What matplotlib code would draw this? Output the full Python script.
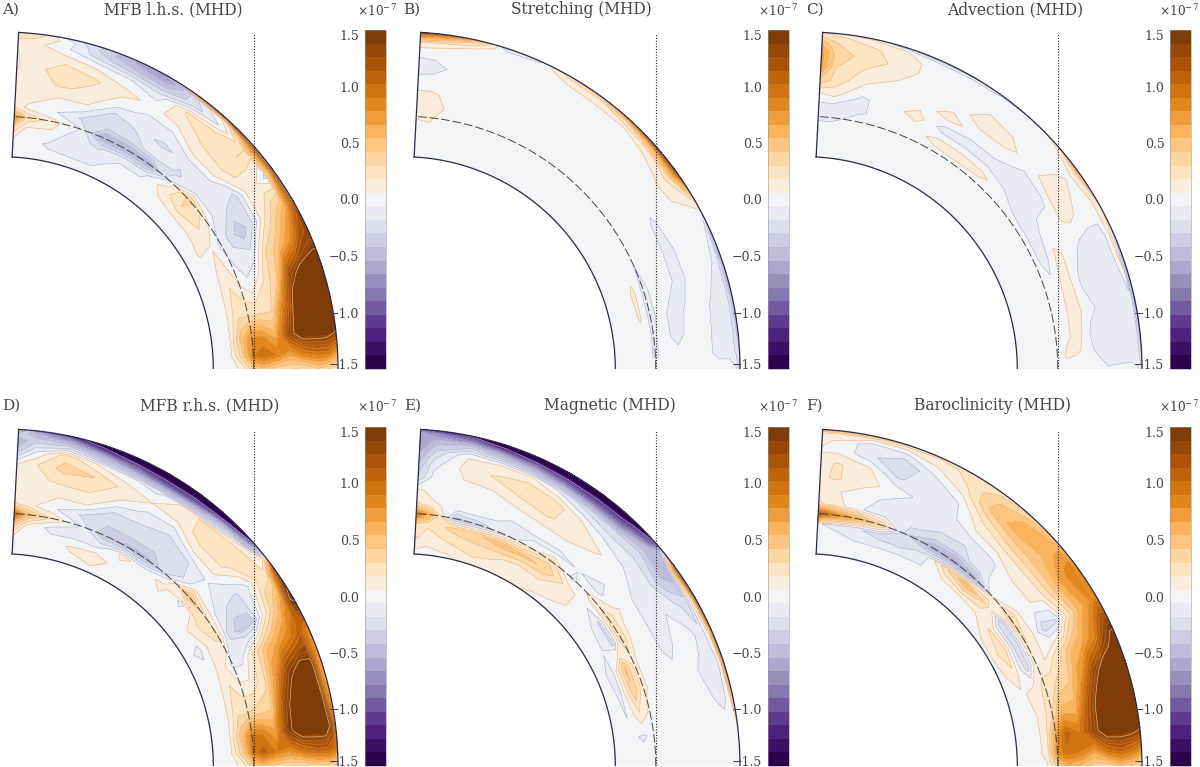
import numpy as np
import matplotlib
matplotlib.use('Agg')
import matplotlib.pyplot as plt
from matplotlib.colors import ListedColormap, to_rgba

W, H = 1200, 767

# grid: latitude (deg) for each row, radius (r/R) for each column
lat = [0, 3, 7, 12, 18, 24, 30, 36, 42, 48, 54, 60, 66, 72, 78, 84, 87]
rad = [.63, .68, .72, .75, .78, .82, .86, .90, .94, .97, .99, 1.0]

# values in units of 1e-7
mfb_lhs = [
    [0, 0, .1, .4, .5, .35, .3, .25, .4, .3, .2, .2],
    [0, 0, .4, .9, 1.0, .9, .7, .9, 1.0, 1.0, .8, .7],
    [0, 0, .5, .8, .8, .6, 1.3, 1.8, 1.8, 1.8, 1.7, 1.6],
    [0, 0, .3, .3, .3, .3, 1.0, 1.8, 1.8, 1.8, 1.7, 1.6],
    [0, 0, .2, .1, 0, .2, .4, 1.3, 1.7, 1.7, 1.7, 1.7],
    [0, 0, .12, -.03, -.15, -.1, .3, .5, .8, 1.2, 1.3, 1.3],
    [0, .07, .05, -.1, -.2, -.4, -.2, .15, .4, .6, 1.0, 1.6],
    [0, .05, .2, .1, -.1, -.15, -.25, .1, .05, -.1, .8, 1.6],
    [0, .05, .3, .35, -.1, -.15, .1, .25, .3, .3, .8, 1.6],
    [0, .03, .12, -.05, -.2, -.15, .1, .2, .25, -.05, .1, 1.2],
    [0, 0, -.1, -.55, -.1, -.2, -.1, .1, .2, -.25, -.2, .8],
    [0, 0, -.1, -.55, -.25, -.15, -.1, .03, -.15, -.45, -.7, -.6],
    [0, -.1, -.2, -.55, -.3, -.25, 0, .1, -.05, -.4, -.55, -.55],
    [0, -.1, -.15, -.05, -.2, .05, .15, .2, .03, -.25, -.35, -.3],
    [0, -.08, .05, .1, -.05, .05, .2, .3, .1, -.05, 0, -.1],
    [0, 0, .05, .3, .02, .15, .1, .1, .15, .1, .2, .3],
    [0, 0, .3, .8, .15, .1, .1, .05, .05, .1, .25, .3],
]
stretching = [
    [0, 0, 0, 0, 0, 0, 0, 0, 0, 0, -.05, -.3],
    [0, 0, 0, -.08, -.02, -.02, -.02, -.02, -.1, -.1, -.2, -.3],
    [0, 0, .02, -.08, -.02, -.1, -.02, -.01, -.1, -.12, -.2, -.4],
    [0, 0, .07, -.1, -.02, -.1, -.05, 0, -.08, -.1, -.2, -.5],
    [0, 0, .08, -.1, -.01, -.02, -.1, -.02, 0, -.08, -.2, -.5],
    [0, 0, .02, -.06, 0, 0, -.1, -.01, 0, .05, -.1, -.4],
    [0, 0, 0, 0, 0, 0, -.08, .02, .05, .06, .1, .2],
    [0, 0, 0, 0, 0, 0, 0, 0, .08, .25, .8, 1.4],
    [0, 0, 0, 0, 0, 0, 0, 0, .01, .1, .6, 1.5],
    [0, 0, 0, 0, 0, 0, 0, 0, 0, .05, .3, .8],
    [0, 0, 0, 0, 0, 0, 0, 0, 0, .06, .15, .4],
    [0, 0, 0, 0, 0, 0, 0, 0, 0, .03, .15, .3],
    [0, 0, 0, 0, 0, 0, 0, 0, 0, 0, -.02, -.1],
    [0, 0, 0, 0, 0, 0, 0, 0, 0, 0, -.05, -.2],
    [0, 0, 0, 0, 0, 0, 0, 0, 0, .05, .3, .7],
    [0, 0, .05, .07, .12, .08, -.02, -.1, -.02, .12, .7, 1.3],
    [0, 0, .02, .07, .12, .08, -.02, -.12, -.03, .15, .8, 1.4],
]
advection = [
    [0, 0, 0, 0, 0, 0, -.02, -.05, -.03, -.02, -.05, -.2],
    [0, 0, 0, 0, .08, .05, -.05, -.1, -.12, -.12, -.15, -.3],
    [0, 0, 0, -.02, .04, .1, -.1, -.12, -.12, -.12, -.15, -.4],
    [0, 0, 0, -.02, .02, .12, -.02, -.1, -.14, -.12, -.1, -.5],
    [0, 0, 0, -.02, 0, .12, -.08, -.12, -.12, -.12, .07, -.4],
    [0, 0, 0, 0, -.12, .1, 0, -.1, -.12, -.1, .1, -.1],
    [0, 0, 0, 0, -.12, -.02, .03, .1, .02, 0, .08, .2],
    [0, 0, 0, 0, -.1, -.1, -.1, .15, .1, .03, .2, .7],
    [0, 0, 0, 0, -.02, -.12, -.1, 0, -.02, 0, .02, .1],
    [0, 0, 0, 0, .1, -.12, 0, .1, .03, 0, 0, -.05],
    [0, 0, 0, .02, .12, -.12, 0, .12, .05, 0, 0, -.1],
    [0, 0, 0, 0, .12, -.12, .12, 0, 0, 0, -.02, -.2],
    [0, 0, 0, 0, -.02, .12, 0, 0, 0, 0, -.05, -.25],
    [0, 0, 0, 0, 0, 0, 0, .06, .12, .12, .06, -.15],
    [0, 0, 0, 0, -.08, -.08, .05, .15, .25, .2, .12, .02],
    [0, 0, 0, -.1, -.12, .1, .25, .3, .35, .3, .2, .1],
    [0, 0, 0, -.1, -.12, .05, .4, .7, .7, .5, .3, .2],
]
mfb_rhs = [
    [0, 0, .1, .4, .5, .35, .3, .25, .35, .35, .3, .2],
    [0, 0, .4, .9, 1.1, .9, .8, 1.0, 1.1, 1.1, 1.0, .9],
    [0, 0, .5, .9, .9, .7, 1.4, 1.8, 1.8, 1.8, 1.3, .9],
    [0, 0, .3, .3, .35, .4, 1.3, 1.8, 1.8, 1.7, .9, .7],
    [0, 0, .2, .1, .1, .25, .8, 1.4, 1.7, 1.6, .8, .6],
    [0, 0, .12, -.1, -.1, .2, .5, .7, .9, 1.1, .9, .8],
    [0, -.1, .15, .2, -.2, -.4, -.35, .1, .45, .8, 1.5, 1.6],
    [0, .05, .2, .2, -.05, -.15, -.2, -.1, .2, .2, .8, 1.3],
    [0, .03, -.1, .5, .05, -.05, .1, .25, .3, .05, -.9, -1.8],
    [0, .03, .1, -.1, -.3, -.2, .1, .25, .25, -.5, -1.8, -2.0],
    [0, 0, 0, -.45, -.3, -.25, -.15, .1, .12, -1.0, -1.9, -2.0],
    [0, 0, .1, -.45, -.3, -.2, -.1, .06, -.1, -1.1, -1.9, -2.0],
    [0, .15, -.15, -.4, -.3, -.2, .05, .15, -.05, -.9, -1.8, -2.0],
    [0, .08, -.12, -.05, -.2, .1, .2, .3, .05, -.6, -1.4, -1.8],
    [0, 0, -.1, .15, -.05, .08, .2, .35, .25, -.3, -.8, -1.3],
    [0, 0, .05, .5, .1, .15, .15, .15, -.1, -.35, -.5, -.8],
    [0, 0, .4, 1.1, .2, .1, .1, .05, -.4, -.5, -.3, .5],
]
magnetic = [
    [0, 0, 0, 0, 0, 0, 0, 0, 0, 0, 0, -.05],
    [0, -.01, -.02, 0, 0, 0, 0, 0, 0, 0, 0, 0],
    [0, -.03, -.08, -.02, 0, 0, 0, 0, 0, 0, 0, .05],
    [0, -.06, .15, .02, 0, 0, 0, 0, -.05, -.1, 0, .6],
    [0, -.08, .4, .1, 0, 0, 0, -.02, -.1, -.15, -.02, .9],
    [0, -.1, .45, .1, -.02, -.02, -.1, 0, -.02, -.15, .1, 1.0],
    [0, -.05, -.2, .3, .03, -.02, -.12, -.06, -.15, -.25, .2, 1.3],
    [-.01, 0, -.2, .25, .1, -.02, -.1, -.1, -.4, -.5, .5, 1.6],
    [0, .03, -.02, .1, -.12, -.02, -.02, -.1, -.25, -.5, -1.0, -1.6],
    [0, .1, .15, -.1, -.05, 0, .08, -.07, -.3, -1.0, -1.8, -2.0],
    [.03, .15, .4, .25, -.1, .05, .12, .06, -.25, -1.1, -1.9, -2.0],
    [.08, .12, .45, 0, -.08, .03, .2, .25, -.1, -1.0, -1.9, -2.0],
    [.1, .2, .5, -.1, -.1, 0, .15, .3, .05, -.8, -1.8, -2.0],
    [.12, .25, .4, -.25, -.02, 0, .06, .2, .05, -.6, -1.5, -1.9],
    [.02, .2, .35, -.35, 0, 0, .05, .1, .05, -.4, -1.0, -1.6],
    [0, .12, .2, .6, .1, .02, -.02, -.1, -.3, -.5, -.8, -1.3],
    [0, .2, .3, 1.0, .2, .1, -.3, -.4, -.6, -.7, -.6, -1.0],
]
baroclinicity = [
    [0, 0, .05, .35, .6, .5, .35, .3, .5, .4, .3, .25],
    [0, 0, .1, .8, 1.0, .9, .7, 1.0, 1.1, 1.0, .9, .8],
    [0, 0, .1, .7, 1.1, .9, 1.3, 1.8, 1.8, 1.8, 1.7, 1.6],
    [0, 0, .1, .3, .6, .6, 1.2, 1.8, 1.8, 1.8, 1.8, 1.7],
    [0, .03, .15, .2, .3, .4, .75, 1.3, 1.8, 1.8, 1.8, 1.8],
    [0, .15, -.25, .15, .05, .25, .5, .65, .9, 1.3, 1.5, 1.5],
    [0, .3, -.3, .2, .08, -.25, -.2, .25, .6, .75, .9, .8],
    [0, .2, -.3, .35, .05, .05, .12, .4, .7, .85, .9, .7],
    [0, .06, .3, .05, 0, .05, .15, .4, .55, .6, .55, .45],
    [0, .03, .55, -.5, -.1, -.1, .1, .35, .6, .55, .4, .3],
    [0, 0, .3, -.65, -.25, -.15, .05, .2, .45, .4, .3, .25],
    [0, -.05, -.1, -.55, -.25, -.12, -.1, -.08, .1, .2, .2, .2],
    [0, -.03, -.25, -.3, -.15, -.15, -.1, -.1, -.08, .06, .15, .2],
    [0, -.05, -.25, .3, -.12, -.1, .02, -.2, -.3, -.1, .1, .3],
    [0, -.05, -.15, .6, -.05, 0, .1, .1, -.15, -.15, .1, .4],
    [0, 0, -.08, .9, .15, .08, .2, .2, .03, .05, .15, .5],
    [0, 0, -.05, 1.3, .2, .1, .15, .1, .05, .08, .2, .5],
]

letters = ['A)', 'B)', 'C)', 'D)', 'E)', 'F)']
titles = ['MFB l.h.s. (MHD)', 'Stretching (MHD)', 'Advection (MHD)',
          'MFB r.h.s. (MHD)', 'Magnetic (MHD)', 'Baroclinicity (MHD)']
fields = [mfb_lhs, stretching, advection, mfb_rhs, magnetic, baroclinicity]
tick_vals = [-1.5, -1.0, -0.5, 0.0, 0.5, 1.0, 1.5]
tick_text = ['\u22121.5', '\u22121.0', '\u22120.5', '0.0', '0.5', '1.0', '1.5']

# pixel layout of each panel
cx = [1, 403, 805, 1, 403, 805]
cy = [369, 369, 369, 766, 766, 766]
bar_x = [365, 768, 1170, 365, 768, 1170]
letter_x = [2, 403, 806, 2, 404, 806]
title_x = [173, 581, 1015, 210, 610, 993]
head_y = [10, 10, 10, 406, 406, 406]
exp_x = [377, 778, 1179, 377, 778, 1179]

R_PX = 337.0
TAN = 0.75  # dashed line and dotted line
levels = np.linspace(-1.5, 1.5, 26)
band_cols = plt.get_cmap('PuOr_r', 25)(np.arange(25))
band_cols[12] = to_rgba('#f2f4f6')
cmap = ListedColormap(band_cols)

# contour lines fade out in the dark bands, the outermost level stays visible
line_cols = []
for l in levels:
    base = '#eabb8e' if l > 0 else '#aeaed0'
    a = 1.0 if abs(l) < 0.5 or abs(l) > 1.45 else 0.35
    line_cols.append(to_rgba(base, a))
ink = '#444444'

plt.rcParams['font.family'] = ['DejaVu Serif']
plt.rcParams['mathtext.fontset'] = 'dejavuserif'
fig = plt.figure(figsize=(W / 100, H / 100), dpi=100)


def px_axes(x0, y0, w, h):
    return fig.add_axes([x0 / W, 1 - (y0 + h) / H, w / W, h / H])


th_arc = np.radians(np.linspace(0, 87, 200))
R, T = np.meshgrid(rad, np.radians(lat))
X = R * np.cos(T)
Y = R * np.sin(T)

for i in range(6):
    z = np.array(fields[i], dtype=float)
    ax = px_axes(cx[i], cy[i] - 340, 342, 340)
    ax.set_xlim(0, 342 / R_PX)
    ax.set_ylim(0, 340 / R_PX)
    ax.axis('off')
    cf = ax.contourf(X, Y, np.clip(z, -1.499, 1.499), levels=levels, cmap=cmap)
    ax.contour(X, Y, z, levels=levels, colors=line_cols, linewidths=0.45)

    # wedge outline
    for r0 in (1.0, rad[0]):
        ax.plot(r0 * np.cos(th_arc), r0 * np.sin(th_arc), color='#2a2a4a', lw=0.9)
    ax.plot([rad[0] * np.cos(th_arc[-1]), np.cos(th_arc[-1])],
            [rad[0] * np.sin(th_arc[-1]), np.sin(th_arc[-1])], color='#2a2a4a', lw=0.9)
    ax.plot(TAN * np.cos(th_arc), TAN * np.sin(th_arc), color='#444444', lw=0.7,
            dashes=(9, 3))
    ax.plot([TAN, TAN], [0, 0.997], color='#222222', lw=0.8, ls=(0, (1, 1.5)))

    # colorbar
    cax = px_axes(bar_x[i], cy[i] - 339, 21, 339)
    cb = fig.colorbar(cf, cax=cax, ticks=tick_vals)
    cb.outline.set_linewidth(0.4)
    cb.outline.set_edgecolor('#999999')
    cax.yaxis.set_ticks_position('left')
    cax.minorticks_off()
    cax.tick_params(length=0, pad=4, labelsize=9, labelcolor=ink)
    cax.set_yticklabels(tick_text)
    labs = cax.get_yticklabels()
    labs[0].set_va('baseline')
    labs[-1].set_va('top')

    fig.text(letter_x[i] / W, 1 - head_y[i] / H, letters[i], fontsize=11, color=ink,
             ha='left', va='center')
    fig.text(title_x[i] / W, 1 - head_y[i] / H, titles[i], fontsize=11.2, color=ink,
             ha='center', va='center')
    fig.text(exp_x[i] / W, 1 - (head_y[i] + 1) / H, r'$\times10^{-7}$', fontsize=8.8,
             color=ink, ha='center', va='center')

fig.savefig('out.png', dpi=100)
